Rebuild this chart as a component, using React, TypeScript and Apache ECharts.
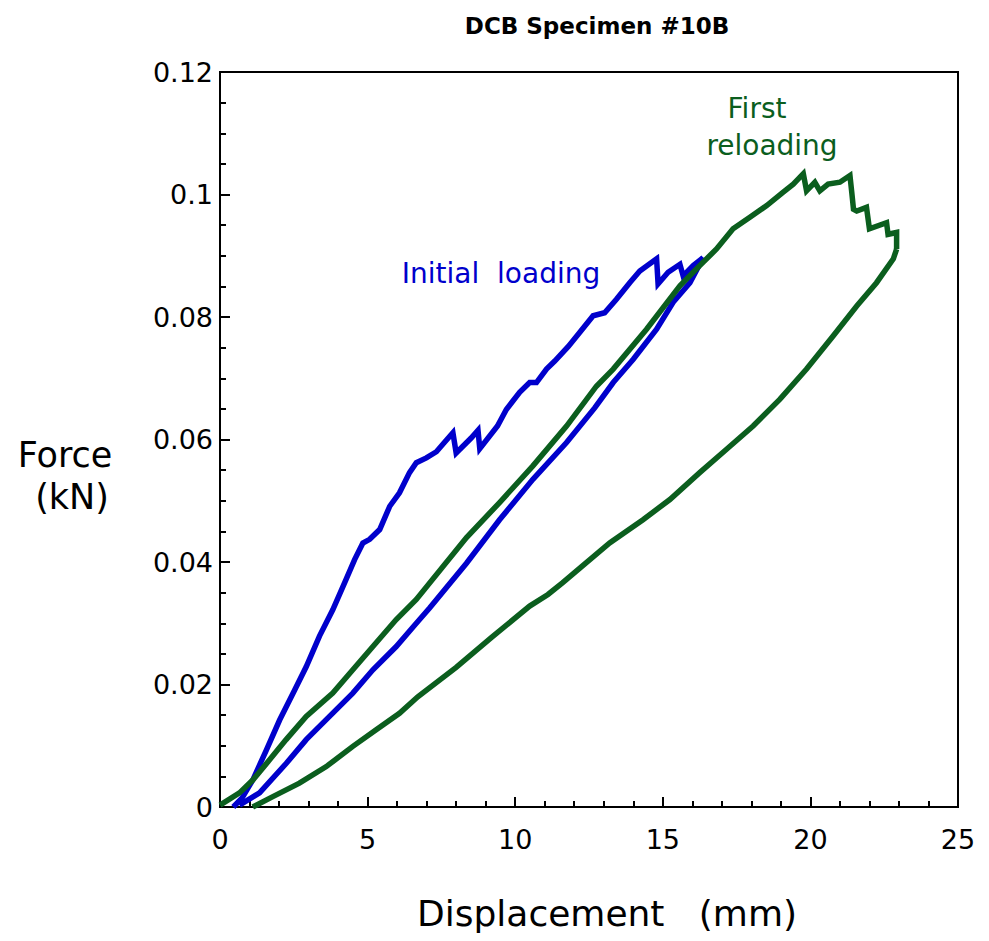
import React, { useEffect, useRef } from "react";
import * as echarts from "echarts";

// Displacement (mm), Force (kN)
const initialLoading: [number, number][] = [
  [0.45, 0], [0.75, 0.0015], [1.11, 0.0044], [1.57, 0.0093], [2.02, 0.0142], [2.53, 0.0191],
  [2.92, 0.0229], [3.37, 0.0279], [3.82, 0.0322], [4.22, 0.0366], [4.56, 0.0404], [4.84, 0.0431],
  [5.07, 0.0437], [5.41, 0.0453], [5.75, 0.0491], [6.08, 0.0513], [6.42, 0.0546], [6.65, 0.0562],
  [6.99, 0.057], [7.33, 0.058], [7.6, 0.0595], [7.89, 0.0611], [8.0, 0.0578], [8.5, 0.0602],
  [8.74, 0.0615], [8.8, 0.0585], [9.4, 0.0622], [9.7, 0.0649], [10.15, 0.0677], [10.49, 0.0693],
  [10.72, 0.0693], [11.06, 0.0715], [11.34, 0.0728], [11.8, 0.0752], [12.19, 0.0775],
  [12.64, 0.0802], [13.03, 0.0807], [13.43, 0.0829], [13.88, 0.0856], [14.22, 0.0875],
  [14.79, 0.0895], [14.84, 0.0854], [15.18, 0.0873], [15.58, 0.0886], [15.69, 0.0867],
  [16.03, 0.0884], [16.37, 0.0897],
];

const initialUnloading: [number, number][] = [
  [16.37, 0.0897], [15.92, 0.0856], [15.35, 0.0824], [14.79, 0.078], [14.0, 0.0731],
  [13.32, 0.0693], [12.7, 0.0652], [11.74, 0.0595], [10.6, 0.0535], [9.47, 0.0469],
  [8.35, 0.0398], [7.1, 0.0325], [6.65, 0.03], [5.97, 0.0262], [5.18, 0.0224], [4.5, 0.0186],
  [3.71, 0.0148], [2.92, 0.011], [2.24, 0.0071], [1.34, 0.0023], [0.66, 0.0003],
];

const firstReloading: [number, number][] = [
  [0, 0.0003], [0.66, 0.0023], [1.11, 0.0044], [1.68, 0.0077], [2.24, 0.011], [2.92, 0.0148],
  [3.82, 0.0186], [4.5, 0.0224], [5.18, 0.0262], [5.97, 0.0306], [6.65, 0.0339], [8.35, 0.044],
  [9.47, 0.0497], [10.6, 0.0557], [11.74, 0.0622], [12.75, 0.0687], [13.32, 0.0715],
  [14.45, 0.078], [15.58, 0.0851], [16.25, 0.0884], [16.82, 0.0911], [17.38, 0.0944],
  [17.95, 0.0963], [18.52, 0.0982], [19.08, 0.1004], [19.42, 0.1017], [19.76, 0.1034],
  [19.87, 0.1006], [20.15, 0.102], [20.32, 0.1006], [20.6, 0.1017], [21.0, 0.102],
  [21.34, 0.1031], [21.4, 0.1004], [21.46, 0.0976], [21.57, 0.0973], [21.9, 0.0979],
  [22.0, 0.0944], [22.58, 0.0954], [22.63, 0.0935], [22.92, 0.0938], [22.92, 0.0911],
];

const firstUnloading: [number, number][] = [
  [22.92, 0.0911], [22.81, 0.0895], [22.24, 0.0856], [21.57, 0.0818], [20.77, 0.0769],
  [19.87, 0.0715], [18.97, 0.0666], [18.06, 0.0622], [17.16, 0.0584], [16.25, 0.0546],
  [15.24, 0.0502], [14.33, 0.0469], [13.2, 0.0431], [12.19, 0.039], [11.6, 0.0366],
  [11.11, 0.0347], [10.49, 0.0328], [9.2, 0.0277], [8.0, 0.0228], [6.7, 0.018], [6.08, 0.0153],
  [5.29, 0.0126], [4.5, 0.0099], [3.6, 0.0066], [2.69, 0.0039], [1.79, 0.0017], [1.11, 0],
];

const xTicks = { min: 0, max: 25, interval: 5 };
const yTicks = { min: 0, max: 0.12, interval: 0.02 };

const titleText = "DCB Specimen #10B";
const xName = "Displacement   (mm)";
const yNameLines = ["Force", "(kN)"];
const blueLabel = "Initial  loading";
const greenLabel = ["First", "reloading"];

const BLUE = "#0000cc";
const GREEN = "#0b5e1e";
const FONT = "'DejaVu Sans', sans-serif";

export default function App() {
  const ref = useRef<HTMLDivElement>(null);
  useEffect(() => {
    if (!ref.current) return;
    const chart = echarts.init(ref.current, null, { renderer: "svg" });
    const axisCommon = {
      type: "value" as const,
      axisLine: { show: true, lineStyle: { color: "#000", width: 2 } },
      axisTick: { show: true, inside: true, length: 10, lineStyle: { color: "#000", width: 2 } },
      minorTick: { show: true, length: 6, lineStyle: { color: "#000", width: 2 } },
      splitLine: { show: false },
      axisLabel: { color: "#000", fontSize: 27, fontFamily: FONT },
    };
    const lineSeries = (name: string, data: [number, number][], color: string) => ({
      name,
      type: "line" as const,
      data,
      showSymbol: false,
      symbol: "none",
      lineStyle: { color, width: 5.5, join: "miter" },
      itemStyle: { color },
      z: 3,
    });
    const txt = (text: string, x: number, y: number, size: number, fill: string, weight = "normal") => ({
      type: "text" as const,
      x,
      y,
      style: {
        text,
        fill,
        font: `${weight} ${size}px ${FONT}`,
        align: "center",
        verticalAlign: "middle",
      },
    });
    chart.setOption({
      animation: false,
      backgroundColor: "#fff",
      title: {
        text: titleText,
        left: 592,
        top: 9,
        textAlign: "center",
        textStyle: { fontSize: 23, fontWeight: "bold", fontFamily: FONT, color: "#000" },
      },
      grid: {
        left: 220,
        right: 31,
        top: 72,
        bottom: 134,
        show: true,
        borderColor: "#000",
        borderWidth: 2,
        backgroundColor: "transparent",
      },
      xAxis: {
        ...axisCommon,
        ...xTicks,
        minorTick: { ...axisCommon.minorTick, splitNumber: 5 },
        axisLabel: { ...axisCommon.axisLabel, margin: 19 },
      },
      yAxis: {
        ...axisCommon,
        ...yTicks,
        minorTick: { ...axisCommon.minorTick, splitNumber: 4 },
        axisLabel: { ...axisCommon.axisLabel, margin: 7 },
      },
      series: [
        lineSeries("Initial loading", initialLoading, BLUE),
        lineSeries("Initial unloading", initialUnloading, BLUE),
        lineSeries("First reloading", firstReloading, GREEN),
        lineSeries("First unloading", firstUnloading, GREEN),
      ],
      graphic: [
        txt(yNameLines[0], 65, 455, 35, "#000"),
        txt(yNameLines[1], 72, 497, 35, "#000"),
        txt(xName, 607, 913, 36, "#000"),
        txt(blueLabel, 501, 273, 28, BLUE),
        txt(greenLabel[0], 757, 108, 28, GREEN),
        txt(greenLabel[1], 772, 145, 28, GREEN),
      ],
    });
    return () => chart.dispose();
  }, []);
  return (
    <div
      ref={ref}
      style={{ position: "absolute", left: 0, top: 0, width: 989, height: 941, background: "#fff" }}
    />
  );
}
